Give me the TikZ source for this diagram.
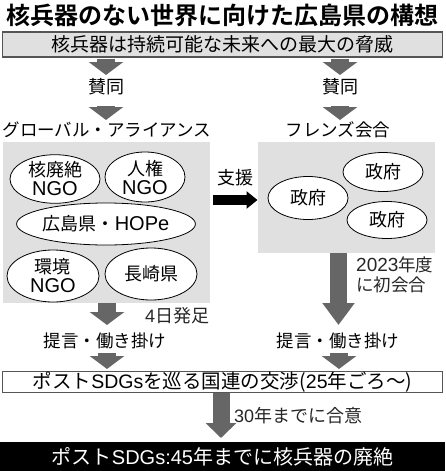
\documentclass[tikz,border=0pt]{standalone}
\usepackage{fontspec}
\setmainfont{Noto Sans CJK JP}[BoldFont={Noto Sans CJK JP Bold}]
\newfontfamily\lat{Liberation Sans}
\usetikzlibrary{shapes.geometric,arrows.meta}
\definecolor{panelgray}{HTML}{E0E0E0}
\definecolor{arrowgray}{HTML}{666666}
\definecolor{edgegray}{HTML}{555555}
\tikzset{
  blockarrow/.style={draw=arrowgray,line width=18pt,-{Triangle[width=34pt,length=13pt]}},
  supportarrow/.style={draw=black,line width=10pt,-{Triangle[width=17pt,length=11pt]}},
  panel/.style={fill=panelgray,draw=none},
  bubble/.style={ellipse,draw=black,fill=white,line width=0.8pt,inner sep=0pt,align=center,font=\fontsize{18}{20}\selectfont},
  lbl/.style={inner sep=0pt,font=\fontsize{17.5}{19}\selectfont},
  note/.style={inner sep=0pt,anchor=west,font=\fontsize{18}{19}\selectfont,text=black!85,align=left},
}
\newcommand{\ngo}{{\lat\fontsize{20}{20}\selectfont NGO}}
\begin{document}
\begin{tikzpicture}[x=1pt,y=-1pt]
\useasboundingbox (0,0) rectangle (445,471);
% title
\node[inner sep=0pt,font=\bfseries\fontsize{24}{26}\selectfont] (title) at (222.5,15) {核兵器のない世界に向けた広島県の構想};
% top box
\node[draw=edgegray,fill=panelgray,line width=1.3pt,minimum width=440pt,minimum height=25pt,inner sep=0pt,font=\fontsize{19}{20}\selectfont] (top) at (222.5,44.5) {核兵器は持続可能な未来への最大の脅威};
% labels 賛同
\node[lbl,font=\fontsize{18}{19}\selectfont] (sl) at (106,87) {賛同};
\node[lbl,font=\fontsize{18}{19}\selectfont] (sr) at (340,87) {賛同};
\coordinate (a1s) at (106,58.5); \coordinate (a1e) at (106,75);
\coordinate (a2s) at (340,58.5); \coordinate (a2e) at (340,75);
\draw[blockarrow] (a1s) -- (a1e);
\draw[blockarrow] (a2s) -- (a2e);
\coordinate (a3s) at (106,106); \coordinate (a3e) at (106,120);
\coordinate (a4s) at (340,106); \coordinate (a4e) at (340,120);
\draw[blockarrow] (a3s) -- (a3e);
\draw[blockarrow] (a4s) -- (a4e);
% group titles
\node[lbl] (ga) at (107,130) {グローバル・アライアンス};
\node[lbl] (fr) at (338,130) {フレンズ会合};
% panels
\fill[panel] (3,142) rectangle (210,303);
\fill[panel] (258,142) rectangle (435,253);
\coordinate (lpanelS) at (107,303);
\coordinate (rpanelS) at (338.5,253);
% left bubbles
\node[bubble,minimum width=90pt,minimum height=45pt] (n1) at (55,179) {核廃絶\\[-1pt]\ngo};
\node[bubble,minimum width=80pt,minimum height=50pt] (n2) at (145,177) {人権\\[-1pt]\ngo};
\node[bubble,minimum width=145pt,minimum height=42pt] (n3) at (106,224) {広島県・{\lat\fontsize{20}{20}\selectfont HOPe}};
\node[bubble,minimum width=92pt,minimum height=52pt] (n4) at (53,276) {環境\\[-1pt]\ngo};
\node[bubble,minimum width=92pt,minimum height=52pt] (n5) at (151,274) {長崎県};
% right bubbles
\node[bubble,minimum width=80pt,minimum height=43pt] (g1) at (308,198) {政府};
\node[bubble,minimum width=80pt,minimum height=39pt] (g2) at (383,172) {政府};
\node[bubble,minimum width=80pt,minimum height=37pt] (g3) at (387,220) {政府};
% support arrow
\node[lbl,font=\fontsize{18}{19}\selectfont] (sup) at (235,178) {支援};
\coordinate (supS) at (213,200); \coordinate (supE) at (257.5,200);
\draw[supportarrow] (supS) -- (supE);
% lower arrows
\coordinate (a5e) at (107,325);
\draw[blockarrow] (lpanelS) -- (a5e);
\coordinate (a6e) at (338.5,325);
\draw[blockarrow,line width=17pt,-{Triangle[width=31pt,length=22pt]}] (rpanelS) -- (a6e);
\node[note] (n4d) at (145,316) {{\lat 4}日発足};
\node[note,font=\fontsize{17.5}{19.5}\selectfont] (n2023) at (356,275) {{\lat\fontsize{19}{19.5}\selectfont 2023}年度\\に初会合};
% proposals
\node[lbl] (pl) at (105,341) {提言・働き掛け};
\node[lbl] (pr) at (338,341) {提言・働き掛け};
\coordinate (a7s) at (107,353); \coordinate (a7e) at (107,369);
\coordinate (a8s) at (339,353); \coordinate (a8e) at (339,369);
\draw[blockarrow] (a7s) -- (a7e);
\draw[blockarrow] (a8s) -- (a8e);
% UN box
\node[draw=edgegray,fill=white,line width=1.3pt,minimum width=440pt,minimum height=20pt,inner sep=0pt,font=\fontsize{19.5}{20}\selectfont] (un) at (222.5,382) {ポスト{\lat SDGs}を巡る国連の交渉({\lat 25}年ごろ～)};
% final arrow
\coordinate (a9e) at (221,438);
\draw[blockarrow,line width=17pt,-{Triangle[width=30pt,length=15pt]}] (un.south -| a9e) -- (a9e);
\node[note] (n30) at (234,416) {{\lat 30}年までに合意};
% final box
\node[fill=black,minimum width=445pt,minimum height=29pt,inner sep=0pt,text=white,font=\fontsize{20}{21}\selectfont] (fin) at (222.5,456.5) {ポスト{\lat SDGs:45}年までに核兵器の廃絶};
\end{tikzpicture}
\end{document}
